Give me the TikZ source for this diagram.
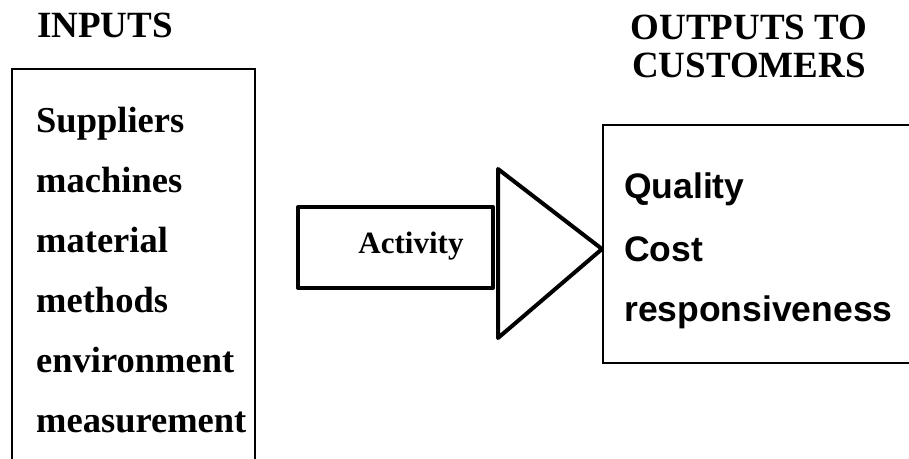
\documentclass[tikz,border=0pt]{standalone}
\usepackage{fontspec}
\setmainfont{Liberation Serif}
\newfontfamily\arialfont{Liberation Sans}
\begin{document}
\begin{tikzpicture}[x=1pt,y=-1pt,
  serifbold/.style={font=\fontsize{37}{37}\selectfont\bfseries, inner sep=0pt},
  listitem/.style={font=\fontsize{36.5}{36.5}\selectfont\bfseries, anchor=base west, inner sep=0pt},
  outitem/.style={font=\arialfont\fontsize{35.5}{35.5}\selectfont\bfseries, anchor=base west, inner sep=0pt},
  thinbox/.style={draw=black, line width=2pt},
  thickbox/.style={draw=black, line width=4pt, line join=round}]
\useasboundingbox (0,0) rectangle (909,458);
\clip (0,0) rectangle (909,458);
% titles
\node[serifbold, anchor=base] (inputs) at (105,37) {INPUTS};
\node[serifbold, anchor=base] (outputs1) at (749,39) {OUTPUTS TO};
\node[serifbold, anchor=base] (outputs2) at (749,77) {CUSTOMERS};
% input box
\draw[thinbox] (12,470) -- (12,69) -- (255,69) -- (255,470);
\node[listitem] (sup) at (36,132) {Suppliers};
\node[listitem] (mac) at (36,192) {machines};
\node[listitem] (mat) at (36,252) {material};
\node[listitem] (met) at (36,312) {methods};
\node[listitem] (env) at (36,372) {environment};
\node[listitem] (mea) at (36,432) {measurement};
% output box
\draw[thinbox] (920,125) -- (603,125) -- (603,363) -- (920,363);
\node[outitem] (qual) at (624,198) {Quality};
\node[outitem] (cost) at (624,261) {Cost};
\node[outitem] (resp) at (624,321) {responsiveness};
% activity arrow
\draw[thickbox] (298,207) rectangle (493,288);
\draw[thickbox] (498,169) -- (602,249) -- (498,338) -- cycle;
\node[font=\fontsize{31}{31}\selectfont\bfseries, anchor=base, inner sep=0pt] (act) at (411,253) {Activity};
\end{tikzpicture}
\end{document}
